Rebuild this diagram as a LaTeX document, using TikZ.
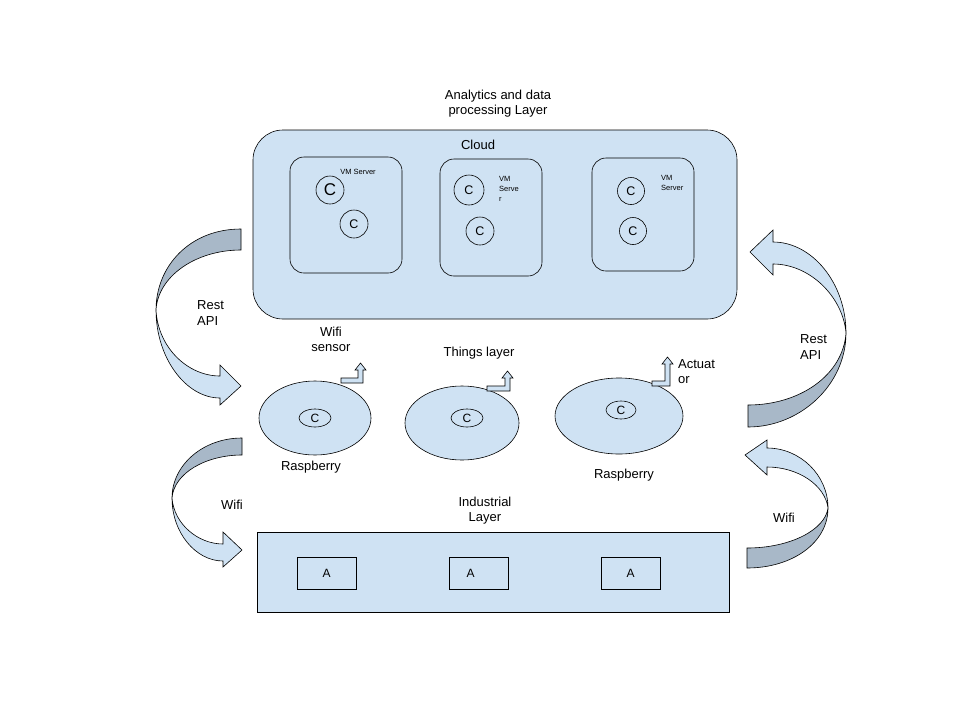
\documentclass[tikz,border=0pt]{standalone}
\usepackage{fontspec}
\setmainfont{Liberation Sans}
\usetikzlibrary{shapes.geometric}
\definecolor{lblue}{HTML}{CFE2F3}
\definecolor{dblue}{HTML}{A8B8C8}
\tikzset{
  box/.style={draw=black, fill=lblue, line width=0.6pt, inner sep=0pt},
  vmbox/.style={box, rounded corners=14pt},
  cnode/.style={draw=black, circle, line width=0.6pt, inner sep=0pt, minimum size=28pt, font=\fontsize{12.5}{12.5}\selectfont},
  thing/.style={box, ellipse},
  inner ell/.style={draw=black, ellipse, line width=0.6pt, inner sep=0pt, minimum width=32pt, minimum height=18pt, font=\fontsize{12}{12}\selectfont},
  abox/.style={draw=black, fill=lblue, line width=0.6pt, inner sep=0pt, minimum width=59pt, minimum height=32pt, font=\fontsize{12}{12}\selectfont},
  lbl/.style={font=\fontsize{13}{15}\selectfont, align=center, inner sep=0pt},
  lbll/.style={font=\fontsize{13}{16}\selectfont, align=left, inner sep=0pt},
  tiny/.style={font=\fontsize{7.5}{10}\selectfont, align=left, inner sep=0pt},
  blockarrow/.style={draw=black, line width=0.6pt, line join=miter},
}
\begin{document}
\begin{tikzpicture}[x=1pt,y=-1pt]
\useasboundingbox[fill=white] (0,0) rectangle (960,720);

% Cloud layer
\node[lbl] (title) at (498,104) {Analytics and data\\processing Layer};
\node[box, rounded corners=30pt, minimum width=484pt, minimum height=189pt] (cloud) at (495,224.5) {};
\node[lbl] (cloudlbl) at (478,145) {Cloud};

\node[vmbox, minimum width=112pt, minimum height=116pt] (vm1) at (346,215) {};
\node[vmbox, minimum width=102pt, minimum height=117pt] (vm2) at (491,217.5) {};
\node[vmbox, minimum width=102pt, minimum height=113pt] (vm3) at (643,214.5) {};

\node[cnode, font=\fontsize{17}{17}\selectfont] (c11) at (330,190) {C};
\node[cnode] (c12) at (354,224) {C};
\node[cnode, minimum size=30pt] (c21) at (469,190) {C};
\node[cnode] (c22) at (480,231) {C};
\node[cnode, minimum size=27pt] (c31) at (631,191) {C};
\node[cnode, minimum size=27pt] (c32) at (633,231) {C};

\node[tiny, anchor=center] (vm1lbl) at (358,172) {VM Server};
\node[tiny, anchor=north west] (vm2lbl) at (499,176) {VM\\Serve\\r};
\node[tiny, anchor=north west] (vm3lbl) at (661,175) {VM\\Server};

% Things layer
\node[thing, minimum width=112pt, minimum height=74pt] (e1) at (315,418) {};
\node[thing, minimum width=114pt, minimum height=74pt] (e2) at (462,423) {};
\node[thing, minimum width=128pt, minimum height=76pt] (e3) at (619,416) {};
\node[inner ell] (ie1) at (315,418) {C};
\node[inner ell] (ie2) at (467,418) {C};
\node[inner ell, minimum width=30pt] (ie3) at (621,410) {C};

\draw[blockarrow, fill=lblue] (341,383)--(363,383)--(363,370)--(366,370)--(360.5,363)--(355,370)--(358,370)--(358,378)--(341,378)--cycle;
\draw[blockarrow, fill=lblue] (487,391)--(510,391)--(510,378)--(513,378)--(507.5,371)--(502,378)--(505,378)--(505,386)--(487,386)--cycle;
\draw[blockarrow, fill=lblue] (652,386)--(670,386)--(670,364)--(673,364)--(667.5,357)--(662,364)--(665,364)--(665,381)--(652,381)--cycle;

\node[lbl] (wifisensor) at (331,339) {Wifi\\sensor};
\node[lbl] (thingslbl) at (479,353) {Things layer};
\node[lbl, align=left, anchor=west] (actlbl) at (678,371.5) {Actuat\\or};
\node[lbl] (rasp1) at (311,467) {Raspberry};
\node[lbl] (rasp2) at (624,475) {Raspberry};

% Industrial layer
\node[lbl] (indlbl) at (485,510.5) {Industrial\\Layer};
\node[box, minimum width=472pt, minimum height=80pt] (ind) at (493,572) {};
\node[abox] (a1) at (326.5,573) {A};
\node[abox] (a2) at (478.5,573) {\hspace*{-16pt}A};
\node[abox] (a3) at (630.5,573) {A};

% Curved arrows: left top (Rest API)
\draw[blockarrow, fill=dblue] (241,229) .. controls (190,229) and (156,266) .. (156,310) .. controls (158,276) and (196,250) .. (241,250) -- cycle;
\draw[blockarrow, fill=lblue] (156,310) .. controls (156,358) and (186,398) .. (220,398) -- (220,405) -- (241,386) -- (220,365) -- (220,376) .. controls (188,376) and (158,348) .. (156,310) -- cycle;
% left bottom (Wifi)
\draw[blockarrow, fill=dblue] (242,438) .. controls (203,438) and (172,465) .. (172,498) .. controls (174,473) and (206,455) .. (242,455) -- cycle;
\draw[blockarrow, fill=lblue] (172,498) .. controls (172,533) and (196,561) .. (223,561) -- (223,567) -- (242,550) -- (223,532) -- (223,544) .. controls (198,544) and (174,524) .. (172,498) -- cycle;
% right top (Rest API)
\draw[blockarrow, fill=lblue] (773,242) .. controls (812,242) and (846,283) .. (846,333) .. controls (843,297) and (810,264) .. (773,264) -- (773,275) -- (750,252) -- (773,230) -- cycle;
\draw[blockarrow, fill=dblue] (846,333) .. controls (846,385) and (800,427) .. (748,427) -- (748,405) .. controls (800,405) and (843,375) .. (846,333) -- cycle;
% right bottom (Wifi)
\draw[blockarrow, fill=lblue] (767,448) .. controls (800,448) and (828,475) .. (828,508) .. controls (825,485) and (798,467) .. (767,467) -- (767,475) -- (745,455) -- (767,440) -- cycle;
\draw[blockarrow, fill=dblue] (828,508) .. controls (828,543) and (792,568) .. (747,568) -- (747,548) .. controls (790,548) and (825,530) .. (828,508) -- cycle;

\node[lbll, anchor=north west] (restl) at (197,300) {Rest\\API};
\node[lbll, anchor=north west] (restr) at (800,334) {Rest\\API};
\node[lbl] (wifil) at (232,505) {Wifi};
\node[lbl] (wifir) at (784,518) {Wifi};
\end{tikzpicture}
\end{document}
